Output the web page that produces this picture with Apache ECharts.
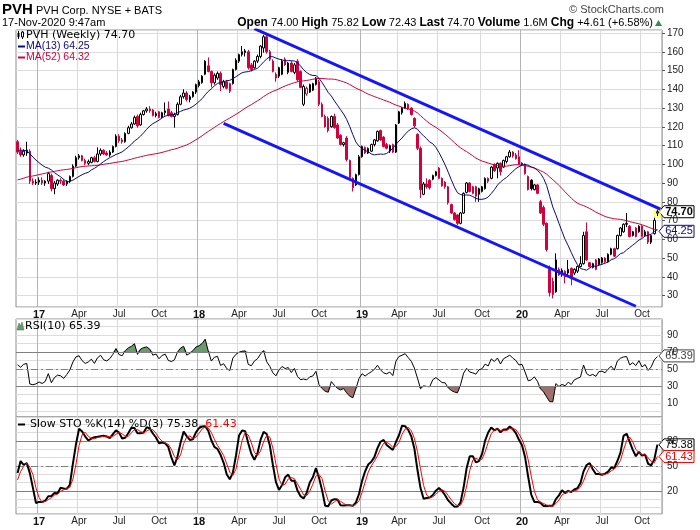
<!DOCTYPE html>
<html>
<head>
<meta charset="utf-8">
<script src="https://cdn.jsdelivr.net/npm/echarts@6/dist/echarts.min.js"></script>
<style>html,body{margin:0;padding:0;background:#fff}#c{width:700px;height:530px}</style>
</head>
<body>
<div id="c"></div>
<script>
// ---------------- DATA ----------------
const firstWeek = [2016, 10, 21]; // Monday of first weekly bar (Nov 21 2016)
const weekOpen = [
112,107,105,106,107,91,90,90.5,91.5,90,
91,94,87,89.5,91.5,91,89.5,91,93.5,99,
103.5,104.5,102,100.5,101,103.5,101.5,105.5,107.5,106,
105,106.5,109.5,115,113,112,116.5,119.5,121.5,125.5,
121,126.5,128.5,129.5,129,126,128,125,127.5,129.5,
127.5,125.5,126.5,132,136,138,134.5,136,138.5,142,
143.5,148,152.5,149.5,143.5,146,148.5,141.5,144,143,
143,150.5,155,158.5,159.5,160,153,151.5,155,157.5,
162,168,160,155,148,147,148,156,149,154,
149,155,149.5,132,137.5,138.5,139.5,142.5,144,132,
125.5,124.5,120,125.5,121,115.5,110.5,114,102,92.5,
89,94.5,104,109,106,107,110.5,112.5,118,114.5,
110.5,107,110.5,106.5,122,127.5,130,132,130,124.5,
116,108.5,84,89.5,91.5,92,94,98,92.5,90.5,
88,78.5,74,73,68.5,74,85,90,88,88,
84,85.5,87,92.5,92.5,100,98,100.5,98.5,101.5,
104,106.5,105,104,100,100,93.5,91.5,86.5,89,
80,77,68.5,44,37.5,32,44,41,43,42,
44.5,42,43,45.5,47,64,47.5,45,49,46.5,
47.5,50,48,52,55,55,62,64,68,67,
62,66,64,67,62,64,58.5,63,74.00];
const weekHigh = [
113,109,108,112,108,92.5,92,93,93,91.5,
96,95,91,92,92.5,92,91.5,94,100,104.5,
105.5,105,103,102.5,104,104.5,109,108.5,108,107,
107.5,110,116,116,114,117,120.5,122.5,126,126.5,
127.5,129,130.5,131,129.5,128,128.5,128,133,133.5,
128.5,127.5,133,137,140,139,137,139,143,145,
147.5,155.5,157,150,148.5,149.5,149.5,145,145,143.5,
151,156.5,159,163,161.5,161,154,155.5,158.5,163.5,
169,169.2,161,156,149,152,156,157,154.5,155,
154,156,150,142.5,141.5,143,143.5,146.5,145,133,
126.5,125.5,126,127,122,116,112,115,102.5,93,
95,105,110,109.5,109,111,113.5,118,118.5,115,
111.5,110.5,111,121.5,128.5,130.5,133.5,132.5,130.5,125,
116.5,109.5,90.5,92.5,92,94.5,96.5,98.5,93,91,
88.5,79,74.5,73.5,74.5,85,90.5,90.5,88.5,88.5,
87.5,88.5,93,93,99,100.5,101,101,102.5,104.5,
107.6,107,106,107.5,101,100.5,94,92,89.5,89.5,
81,78,69,46,39.5,52.5,45,44.5,43.5,49,
45,44.5,46,51,64,69,48,47.5,49.5,50,
50.5,50.5,52.5,55.5,55.5,62.5,66.5,68.5,74,67.5,
64.5,66.5,67.5,67.5,65,64.5,62.5,71.5,75.82];
const weekLow = [
105.5,104,104,104.5,89.5,89,89,89,89,88.5,
89.5,85.5,84,88.5,89.5,88.5,88.5,90,93,98.5,
102.5,101.5,99.5,99.5,100.5,101,101,104.5,105,104.5,
104,106,109,111.5,111,111.5,116,119,121,119.5,
120.5,126,127.5,127.5,125.5,125,124.5,124.5,126,125.5,
125,119.5,126,131.5,135,133.5,133,135.5,137.5,141,
143,147.5,149,141,142.5,145,139,140.5,140,138,
142.5,150,154,157.5,157.5,150.5,149.5,151,154,156.5,
159.5,159,155,149,144,146,147.5,152.5,148,149,
148,144,140.5,131,136.5,138,139,142,131,125,
119.5,117,119.5,119,113.5,110,109.5,101.5,92.5,85.5,
88.5,94,103.5,105.5,105.5,106.5,109.5,112,112.5,109,
108,106,106,106,121.5,126.5,129.5,129,126,119.5,
107.5,82,83.5,87,86.5,91.5,93.5,92,88,87,
78.5,73.5,70,67.5,68,73.5,84.5,85,84,80,
80,85,86.5,90,92,96,92.5,94,98,100.5,
103.5,103.5,102.5,99.5,99,94.5,86,86,86,84,
73.5,67,53.5,29.5,28.5,31.5,40.5,40,36.5,41,
35.5,41,42,45,46.5,48.5,45,44.5,43.5,46,
47,47.5,47.5,51.5,50.5,54.5,61.5,63.5,66.5,61,
61.5,61,63.5,61,61.5,57.5,57.5,62.5,72.43];
const weekClose = [
106.5,105,107,107.5,91,90,90.5,91.5,90,91,
95,87,90,91.5,91,89,91,93.5,99,103.5,
104.5,102,100.5,101.5,103.5,101.5,105.5,107.5,105.5,105,
106.5,109.5,115,112.5,112,116.5,119.5,121.5,125,120.5,
126.5,128.5,129.5,128.5,126,127,125,127.5,128.5,126,
125.5,126.5,132,136,138,134.5,136,138.5,142.5,144,
147,155,149.5,143.5,147.5,148.5,142.5,144,140.5,139,
150.5,155.5,158.5,160,160.5,151.5,150.5,155,157.5,163,
168,160,156,149.5,146,151.5,155,153,154,149.5,
153,145,141,141.5,140.5,142.5,143,146,132,125.5,
120,118,125.5,119.5,114,110.5,111.5,102.5,93,87.5,
94.5,104,109.5,106,108.5,110.5,113,117.5,113,109.5,
108.5,110,106.5,121,128,130,132.5,129.5,126.5,120.5,
108.5,86.5,89.5,88,87.5,94,96,92.5,88.5,88,
79.5,74,70.5,68.5,74,84.5,90,85.5,84.5,83,
87,88,92.5,91,98.5,96.5,100.5,96,102,104,
106.5,104.5,103,100,100.5,95,86.5,87,89,84.5,
74,68,54.5,31.5,30.5,49,41,43.5,40,44,
39,44,45.5,47,62,49,45.5,47,44,49.5,
50,48,52,55,51,62,66,68,68.5,61.5,
64,61.5,67,61.5,64,58.5,62,70.09,74.70];
// estimated weekly closes of the 52 weeks before the first visible bar (only seed the indicators)
const priorCloses = [
86,84,82,78,75,73,72,73,71,72,74,72,73,75,76,78,80,82,82,84,86,88,
93,95,97,98,96,94,92,90,95,97,99,100,99,97,98,99,100,101,
105,108,110,112,113,111,110,107,105,102,99,109];
const tickLabels = ['17','Apr','Jul','Oct','18','Apr','Jul','Oct','19','Apr','Jul','Oct','20','Apr','Jul','Oct'];
const upperChannel = [[77, 172.3], [209, 76.1]];
const lowerChannel = [[67, 121.8], [201, 24.3]];
const quote = {open:'74.00', high:'75.82', low:'72.43', last:'74.70', volume:'1.6M', chg:'+4.61 (+6.58%)'};
const legendVals = {ma13:'64.25', ma52:'64.32', rsi:'65.39', k:'75.38', d:'61.43'};

// ---------------- HELPERS ----------------
const N = weekClose.length;
const cats = [];
const months = [];
{
  let t = Date.UTC(firstWeek[0], firstWeek[1], firstWeek[2]);
  for (let i = 0; i <= N; i++) {
    const d = new Date(t);
    cats.push(i < N ? d.toISOString().slice(0,10) : '');
    months.push(d.getUTCMonth());
    t += 7*86400000;
  }
}
const tickMap = new Map();
const yearTick = new Set();
{
  let k = 0;
  for (let i = 1; i < N; i++) {
    if (months[i] !== months[i-1] && months[i] % 3 === 0 && k < tickLabels.length) {
      tickMap.set(i+1, tickLabels[k]);
      if (months[i] === 0) yearTick.add(i+1);
      k++;
    }
  }
}
const splitColors = [...tickMap.keys()].map(k => yearTick.has(k) ? '#b4b4b4' : '#dadada');

const allC = priorCloses.concat(weekClose);
const allH = priorCloses.concat(weekHigh);
const allL = priorCloses.concat(weekLow);
const P = priorCloses.length;
function sma(a, n) {
  const out = [];
  for (let i = 0; i < a.length; i++) {
    if (i < n-1) { out.push(null); continue; }
    let s = 0, ok = true;
    for (let k = i-n+1; k <= i; k++) { if (a[k] == null) { ok = false; break; } s += a[k]; }
    out.push(ok ? s/n : null);
  }
  return out;
}
function rsiCalc(c, n) {
  const out = new Array(c.length).fill(null);
  let ag = 0, al = 0;
  for (let i = 1; i < c.length; i++) {
    const ch = c[i]-c[i-1], g = Math.max(ch,0), l = Math.max(-ch,0);
    if (i <= n) { ag += g/n; al += l/n; if (i < n) continue; }
    else { ag = (ag*(n-1)+g)/n; al = (al*(n-1)+l)/n; }
    out[i] = al === 0 ? 100 : 100 - 100/(1+ag/al);
  }
  return out;
}
function stoch(c, h, l, n, s) {
  const fk = [];
  for (let i = 0; i < c.length; i++) {
    if (i < n-1) { fk.push(null); continue; }
    let hh = -Infinity, ll = Infinity;
    for (let k = i-n+1; k <= i; k++) { hh = Math.max(hh, h[k]); ll = Math.min(ll, l[k]); }
    fk.push(hh === ll ? 50 : (c[i]-ll)/(hh-ll)*100);
  }
  const sk = sma(fk, s);
  return [sk, sma(sk, s)];
}
const ma13 = sma(allC, 13).slice(P);
const ma52 = sma(allC, 52).slice(P);
const rsi = rsiCalc(allC, 10).slice(P);
const st = stoch(allC, allH, allL, 14, 3);
const stoK = st[0].slice(P), stoD = st[1].slice(P);

const RED = '#d2003c';
const candleData = weekClose.map((c, i) => {
  const o = weekOpen[i];
  const prev = i ? weekClose[i-1] : priorCloses[P-1];
  const col = c >= prev ? '#000000' : RED;
  const fill = c > o ? '#ffffff' : col;
  return { value: [o, c, weekLow[i], weekHigh[i]],
    itemStyle: { color: fill, color0: fill, borderColor: col, borderColor0: col } };
});

const AX = '"Liberation Sans", Arial, sans-serif';
const LG = '"DejaVu Sans", Verdana, sans-serif';

function xAxisDef(gi, showLabel) {
  return {
    type: 'category', gridIndex: gi, data: cats, boundaryGap: true,
    axisLine: { show: false }, axisTick: { show: false },
    axisLabel: {
      show: showLabel, interval: (idx) => tickMap.has(idx), margin: 2,
      fontFamily: AX, fontSize: 10, color: '#222',
      formatter: (v, idx) => tickMap.has(idx) ? (yearTick.has(idx) ? '{y|' + tickMap.get(idx) + '}' : tickMap.get(idx)) : '',
      rich: { y: { fontWeight: 'bold', fontSize: 11, fontFamily: AX, color: '#111' } }
    },
    splitLine: { show: true, interval: (idx) => tickMap.has(idx), lineStyle: { color: splitColors, width: 1 } }
  };
}
function yAxisDef(gi, min, max, split, labelSet, ticks) {
  return {
    type: 'value', gridIndex: gi, position: 'right', min, max, splitNumber: split, scale: true,
    axisLine: { show: false },
    axisTick: { show: ticks, length: 3, lineStyle: { color: '#555' } },
    axisLabel: { margin: 5, fontFamily: AX, fontSize: 10, color: '#222', showMinLabel: false, showMaxLabel: false,
      formatter: (v) => { const r = Math.round(v); return (Math.abs(v - r) < 1e-6 && (!labelSet || labelSet.includes(r))) ? String(r) : ''; } },
    splitLine: { show: true, lineStyle: { color: '#dcdcdc', width: 1 } }
  };
}

const chart = echarts.init(document.getElementById('c'), null, { renderer: 'canvas' });
const gridBase = { left: 16, right: 38, show: true, borderColor: '#8c8c8c', borderWidth: 1, backgroundColor: '#fff' };
const option = {
  animation: false,
  backgroundColor: '#fff',
  grid: [
    Object.assign({ top: 30, height: 277 }, gridBase),
    Object.assign({ top: 319, height: 98 }, gridBase),
    Object.assign({ top: 417, height: 97 }, gridBase)
  ],
  xAxis: [xAxisDef(0, true), xAxisDef(1, false), xAxisDef(2, true)],
  yAxis: [
    yAxisDef(0, 23.9, 171.6, 15, null, true),
    yAxisDef(1, -6.5, 108.8, 12, [10,30,50,70,90], false),
    yAxisDef(2, -7.6, 108.8, 12, [20,50,80], false)
  ],
  series: [
    { type: 'scatter', xAxisIndex: 0, yAxisIndex: 0, z: 1, silent: true,
      symbol: 'rect', symbolSize: [7, 10], itemStyle: { color: '#ffff55' },
      data: [[N-1, (weekHigh[N-1] + weekLow[N-1]) / 2]] },
    { type: 'candlestick', xAxisIndex: 0, yAxisIndex: 0, z: 2, barWidth: 2, data: candleData,
      itemStyle: { borderWidth: 1 } },
    { type: 'line', xAxisIndex: 0, yAxisIndex: 0, z: 3, data: ma52, showSymbol: false, symbol: 'none',
      lineStyle: { color: RED, width: 1 } },
    { type: 'line', xAxisIndex: 0, yAxisIndex: 0, z: 3, data: ma13, showSymbol: false, symbol: 'none',
      lineStyle: { color: '#0a0a82', width: 1 } },
    { type: 'line', xAxisIndex: 0, yAxisIndex: 0, z: 4, data: upperChannel, symbol: 'none', clip: true,
      lineStyle: { color: '#1414ff', width: 3 } },
    { type: 'line', xAxisIndex: 0, yAxisIndex: 0, z: 4, data: lowerChannel, symbol: 'none', clip: true,
      lineStyle: { color: '#1414ff', width: 3 } },
    // RSI fills
    { type: 'line', xAxisIndex: 1, yAxisIndex: 1, stack: 'g', data: rsi.map(() => 70), symbol: 'none',
      lineStyle: { opacity: 0 }, z: 1,
      markLine: { silent: true, symbol: 'none', label: { show: false },
        data: [ { yAxis: 70, lineStyle: { color: '#808080', width: 1, type: 'solid' } },
                { yAxis: 30, lineStyle: { color: '#808080', width: 1, type: 'solid' } },
                { yAxis: 50, lineStyle: { color: '#808080', width: 1, type: [7,3,2,3] } } ] } },
    { type: 'line', xAxisIndex: 1, yAxisIndex: 1, stack: 'g', data: rsi.map(v => Math.max(v - 70, 0)), symbol: 'none',
      lineStyle: { opacity: 0 }, areaStyle: { color: '#6d9a6d', opacity: 1 }, z: 1 },
    { type: 'line', xAxisIndex: 1, yAxisIndex: 1, stack: 'b', data: rsi.map(v => Math.min(v, 30)), symbol: 'none',
      lineStyle: { opacity: 0 }, z: 1 },
    { type: 'line', xAxisIndex: 1, yAxisIndex: 1, stack: 'b', data: rsi.map(v => 30 - Math.min(v, 30)), symbol: 'none',
      lineStyle: { opacity: 0 }, areaStyle: { color: '#a0716b', opacity: 1 }, z: 1 },
    { type: 'line', xAxisIndex: 1, yAxisIndex: 1, data: rsi, symbol: 'none', z: 3,
      lineStyle: { color: '#000', width: 1 } },
    // Stochastics
    { type: 'line', xAxisIndex: 2, yAxisIndex: 2, data: stoK, symbol: 'none', z: 3,
      lineStyle: { color: '#000', width: 2 },
      markLine: { silent: true, symbol: 'none', label: { show: false }, z: 1,
        data: [ { yAxis: 80, lineStyle: { color: '#808080', width: 1, type: 'solid' } },
                { yAxis: 20, lineStyle: { color: '#808080', width: 1, type: 'solid' } },
                { yAxis: 50, lineStyle: { color: '#808080', width: 1, type: [7,3,2,3] } } ] } },
    { type: 'line', xAxisIndex: 2, yAxisIndex: 2, data: stoD, symbol: 'none', z: 4,
      lineStyle: { color: '#ff0000', width: 1 } }
  ]
};
chart.setOption(option);

// ---------------- TEXT / TAGS ----------------
function tag(y, text, color, bold) {
  return { type: 'group', silent: true, z: 100, children: [
    { type: 'polygon', shape: { points: [[659, y], [664, y-6], [694, y-6], [694, y+6], [664, y+6]] },
      style: { fill: '#fff', stroke: color, lineWidth: 1 } },
    { type: 'text', x: 679, y: y, style: { text: text, fill: color, font: (bold ? 'bold ' : '') + '11px ' + AX,
      align: 'center', verticalAlign: 'middle', textAlign: 'center', textVerticalAlign: 'middle' } }
  ]};
}
function txt(x, y, text, font, fill, align) {
  return { type: 'text', x: x, y: y, silent: true, z: 100, style: { text: text, font: font, fill: fill || '#000',
    align: align || 'left', verticalAlign: 'middle', textAlign: align || 'left', textVerticalAlign: 'middle' } };
}
const yMain = v => chart.convertToPixel({ yAxisIndex: 0 }, v);
const yR = v => chart.convertToPixel({ yAxisIndex: 1 }, v);
const yS = v => chart.convertToPixel({ yAxisIndex: 2 }, v);
const g = [];
// header
g.push(txt(2, 10, 'PVH', 'bold 15px ' + AX));
g.push(txt(36, 11, 'PVH Corp. NYSE + BATS', '11px ' + AX));
g.push(txt(664, 10, '\u00a9 StockCharts.com', '11px ' + AX, '#444', 'right'));
g.push(txt(2, 23, '17-Nov-2020 9:47am', '11px ' + AX));
g.push({ type: 'text', x: 653, y: 23, silent: true, z: 100, style: {
  text: '{b|Open} ' + quote.open + ' {b|High} ' + quote.high + ' {b|Low} ' + quote.low + ' {b|Last} ' + quote.last +
        ' {b|Volume} ' + quote.volume + ' {b|Chg} ' + quote.chg,
  font: '11px ' + AX, fill: '#000', align: 'right', verticalAlign: 'middle', textAlign: 'right', textVerticalAlign: 'middle',
  rich: { b: { fontWeight: 'bold', fontSize: 12, fontFamily: AX, fill: '#000' } } } });
g.push({ type: 'polygon', silent: true, z: 100, shape: { points: [[655, 26], [662, 26], [658.5, 20]] }, style: { fill: '#2f8f4f' } });
// main legend
g.push({ type: 'group', silent: true, z: 100, children: [
  { type: 'line', shape: { x1: 18.5, y1: 31, x2: 18.5, y2: 39 }, style: { stroke: '#000', lineWidth: 1 } },
  { type: 'rect', shape: { x: 17.5, y: 33, width: 2, height: 4 }, style: { fill: '#000' } },
  { type: 'line', shape: { x1: 22.5, y1: 31, x2: 22.5, y2: 39 }, style: { stroke: '#000', lineWidth: 1 } },
  { type: 'rect', shape: { x: 21.5, y: 32, width: 2, height: 5 }, style: { fill: '#fff', stroke: '#000', lineWidth: 1 } }
]});
g.push(txt(26, 35, 'PVH (Weekly) ' + quote.last, '11px ' + LG));
g.push({ type: 'line', silent: true, z: 100, shape: { x1: 18, y1: 46.5, x2: 25, y2: 46.5 }, style: { stroke: '#0a0a82', lineWidth: 2 } });
g.push(txt(26, 46.5, 'MA(13) ' + legendVals.ma13, '10.5px ' + AX, '#0a0a82'));
g.push({ type: 'line', silent: true, z: 100, shape: { x1: 18, y1: 57.5, x2: 25, y2: 57.5 }, style: { stroke: RED, lineWidth: 2 } });
g.push(txt(26, 57.5, 'MA(52) ' + legendVals.ma52, '10.5px ' + AX, RED));
// RSI legend
g.push({ type: 'polygon', silent: true, z: 100, shape: { points: [[17, 330], [19, 323], [20.5, 326], [22, 322], [24, 330]] }, style: { fill: '#6d9a6d', stroke: '#3d6a3d', lineWidth: 0.5 } });
g.push(txt(25, 326, 'RSI(10) ' + legendVals.rsi, '11px ' + LG));
// STO legend
g.push({ type: 'line', silent: true, z: 100, shape: { x1: 18, y1: 424.5, x2: 25, y2: 424.5 }, style: { stroke: '#000', lineWidth: 2 } });
g.push({ type: 'text', x: 30, y: 424.5, silent: true, z: 100, style: {
  text: 'Slow STO %K(14) %D(3) ' + legendVals.k + ', {r|' + legendVals.d + '}',
  font: '11px ' + LG, fill: '#000', align: 'left', verticalAlign: 'middle', textAlign: 'left', textVerticalAlign: 'middle',
  rich: { r: { fill: '#ff0000', fontSize: 11, fontFamily: LG } } } });
// tags
g.push(tag(yMain(parseFloat(legendVals.ma13)), legendVals.ma13, '#0a0a82', false));
g.push(tag(yMain(parseFloat(quote.last)), quote.last, '#000', true));
g.push(tag(yR(parseFloat(legendVals.rsi)), legendVals.rsi, '#444', false));
g.push(tag(yS(parseFloat(legendVals.k)), legendVals.k, '#000', false));
g.push(tag(yS(parseFloat(legendVals.d)), legendVals.d, '#ff0000', false));
chart.setOption({ graphic: { elements: g } });
</script>
</body>
</html>
